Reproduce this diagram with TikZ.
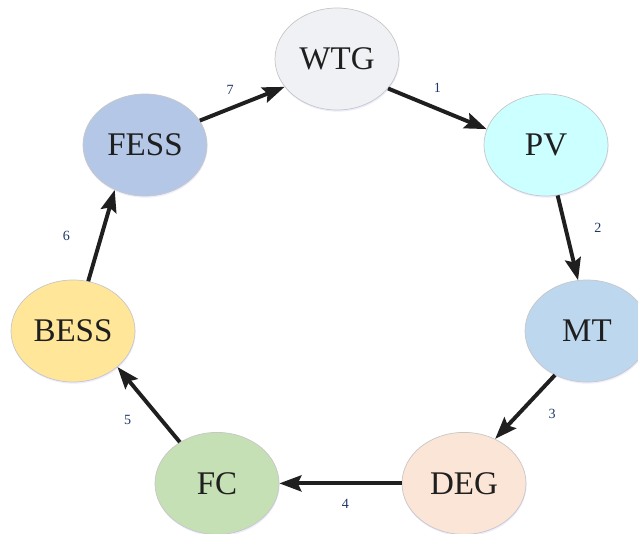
\documentclass[tikz,border=0pt]{standalone}
\usepackage{fontspec}
\setmainfont{Liberation Serif}
\usetikzlibrary{arrows.meta,shapes.geometric,shadows}
\definecolor{wtgfill}{HTML}{F0F1F4}
\definecolor{pvfill}{HTML}{CCFFFF}
\definecolor{mtfill}{HTML}{BDD7EE}
\definecolor{degfill}{HTML}{FBE5D6}
\definecolor{fcfill}{HTML}{C5E0B4}
\definecolor{bessfill}{HTML}{FFE699}
\definecolor{fessfill}{HTML}{B4C7E7}
\definecolor{numblue}{HTML}{1F3864}
\begin{document}
\begin{tikzpicture}[
unit/.style={ellipse,draw=black!22,line width=0.5pt,minimum width=3.1cm,minimum height=2.55cm,inner sep=0pt,
  font=\fontsize{23.5}{26}\selectfont,text=black!88,drop shadow={opacity=0.18,fill=blue!40,shadow xshift=0.4pt,shadow yshift=-1.2pt}},
flow/.style={line width=2.8pt,draw=black!88,-{Stealth[length=5.5mm,width=4mm,inset=0.9mm]}},
num/.style={font=\fontsize{10}{12}\selectfont,text=numblue}]
\useasboundingbox (0,0) rectangle (15.95,13.325);
\node[unit,fill=wtgfill]
(wtg) at (8.425,11.85) {WTG};
\node[unit,fill=pvfill]
(pv) at (13.65,9.7) {PV};
\node[unit,fill=mtfill]
(mt) at (14.675,5.05) {MT};
\node[unit,fill=degfill]
(deg) at (11.6,1.24) {DEG};
\node[unit,fill=fcfill]
(fc) at (5.425,1.24) {FC};
\node[unit,fill=bessfill]
(bess) at (1.825,5.05) {BESS};
\node[unit,fill=fessfill]
(fess) at (3.625,9.7) {FESS};
\draw[flow](wtg.-30.6) -- (pv.165.3) node[num,midway,yshift=0.525cm] {1};
\draw[flow](pv.-77.6) -- (mt.100.7) node[num,midway,xshift=0.75cm,yshift=0.25cm] {2};
\draw[flow](mt.234) -- (deg.55) node[num,midway,xshift=0.675cm,yshift=-0.175cm] {3};
\draw[flow](deg.180) -- (fc.0) node[num,midway,xshift=0.125cm,yshift=-0.5cm] {4};
\draw[flow](fc.132.8) -- (bess.-39.4) node[num,midway,xshift=-0.525cm,yshift=-0.375cm] {5};
\draw[flow](bess.73) -- (fess.236.3) node[num,midway,xshift=-0.875cm] {6};
\draw[flow](fess.24.8) -- (wtg.208.2) node[num,midway,xshift=-0.3cm,yshift=0.35cm] {7};
\end{tikzpicture}
\end{document}
